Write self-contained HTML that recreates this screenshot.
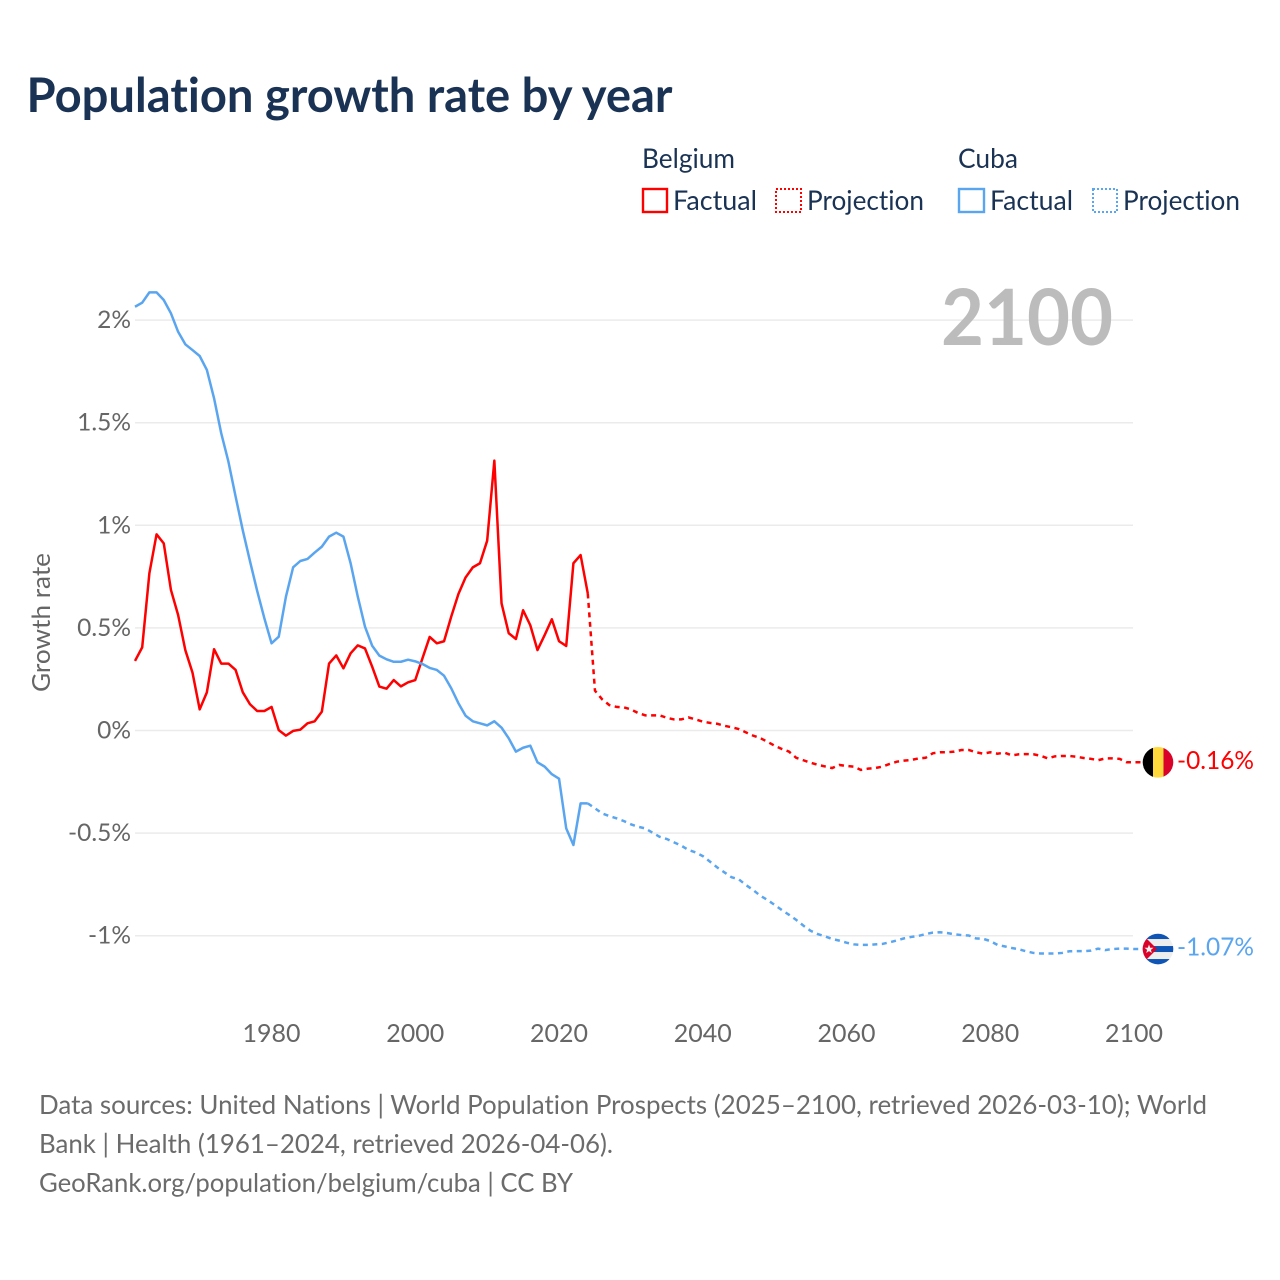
<!DOCTYPE html>
<html lang="en">
<head>
<meta charset="utf-8">
<title>Population growth rate by year</title>
<style>
html,body{margin:0;padding:0;background:#fff;}
svg{display:block;}
text{font-family:"Lato","Carlito","Liberation Sans",sans-serif;font-variant-ligatures:none;}
</style>
</head>
<body>
<svg id="chart" xmlns="http://www.w3.org/2000/svg" width="1280" height="1280" viewBox="0 0 1280 1280">
  <defs>
    <clipPath id="flag-clip"><circle cx="0" cy="0" r="15.3"/></clipPath>
  </defs>
  <rect width="1280" height="1280" fill="#fff"/>
  <text x="26.5" y="112" font-size="48" font-weight="700" fill="#1a3354" textLength="646" lengthAdjust="spacingAndGlyphs">Population growth rate by year</text>

  <g font-size="27" fill="#1a3354">
    <text x="642" y="168" textLength="93" lengthAdjust="spacingAndGlyphs">Belgium</text>
    <text x="958" y="168" textLength="60" lengthAdjust="spacingAndGlyphs">Cuba</text>
    <rect x="643" y="189" width="24" height="23" fill="none" stroke="#ff0000" stroke-width="2.4"/>
    <text x="673" y="210" textLength="84" lengthAdjust="spacingAndGlyphs">Factual</text>
    <rect x="776" y="189" width="25" height="23" fill="none" stroke="#ff0000" stroke-width="2" stroke-dasharray="2 2"/>
    <text x="807" y="210" textLength="117" lengthAdjust="spacingAndGlyphs">Projection</text>
    <rect x="959" y="189" width="25" height="23" fill="none" stroke="#5aa5ef" stroke-width="2.4"/>
    <text x="990" y="210" textLength="83" lengthAdjust="spacingAndGlyphs">Factual</text>
    <rect x="1093" y="189" width="24" height="23" fill="none" stroke="#5aa5ef" stroke-width="2" stroke-dasharray="2 2"/>
    <text x="1123" y="210" textLength="117" lengthAdjust="spacingAndGlyphs">Projection</text>
  </g>

  <g id="grid"></g>
  <g id="yticks"></g>
  <g id="xticks"></g>

  <text x="941" y="345" font-size="78" font-weight="700" fill="#bcbcbc" textLength="172" lengthAdjust="spacingAndGlyphs">2100</text>
  <text transform="translate(50,622.5) rotate(-90)" text-anchor="middle" font-size="25" fill="#666" textLength="139" lengthAdjust="spacingAndGlyphs">Growth rate</text>

  <g id="series"></g>

  <g id="flag-belgium">
    <g clip-path="url(#flag-clip)">
      <rect x="-16" y="-16" width="11" height="32" fill="#000"/>
      <rect x="-5" y="-16" width="10.5" height="32" fill="#ffd83d"/>
      <rect x="5.5" y="-16" width="11" height="32" fill="#da0229"/>
    </g>
  </g>
  <g id="flag-cuba">
    <g clip-path="url(#flag-clip)">
      <rect x="-16" y="-16" width="32" height="32" fill="#eeeeee"/>
      <rect x="-16" y="-16" width="32" height="6" fill="#0f55b5"/>
      <rect x="-16" y="-3" width="32" height="6" fill="#0f55b5"/>
      <rect x="-16" y="10" width="32" height="6" fill="#0f55b5"/>
      <polygon points="-16,-15 -1,0 -16,15" fill="#da0229"/>
      <polygon points="-9,-4.5 -7.8,-1.3 -4.5,-1.3 -7.1,0.8 -6.2,4 -9,2.1 -11.8,4 -10.9,0.8 -13.5,-1.3 -10.2,-1.3" fill="#f2f2f2"/>
    </g>
  </g>
  <g id="endlabels"></g>

  <g font-size="26" fill="#6b6b6b">
    <text x="39" y="1114" textLength="1168" lengthAdjust="spacingAndGlyphs">Data sources: United Nations | World Population Prospects (2025–2100, retrieved 2026-03-10); World</text>
    <text x="39" y="1153" textLength="574" lengthAdjust="spacingAndGlyphs">Bank | Health (1961–2024, retrieved 2026-04-06).</text>
    <text x="39" y="1192" textLength="534" lengthAdjust="spacingAndGlyphs">GeoRank.org/population/belgium/cuba | CC BY</text>
  </g>
</svg>
<script>
const xTickYears = [1980, 2000, 2020, 2040, 2060, 2080, 2100];
const xTickLabels = ["1980", "2000", "2020", "2040", "2060", "2080", "2100"];
const yTickValues = [2, 1.5, 1, 0.5, 0, -0.5, -1];
const yTickLabels = ["2%", "1.5%", "1%", "0.5%", "0%", "-0.5%", "-1%"];
const factualStartYear = 1961;
const projectionStartYear = 2024;
const belgiumFactual = [0.339,0.405,0.766,0.956,0.912,0.685,0.563,0.392,0.282,0.103,0.186,0.396,0.326,0.326,0.295,0.186,0.128,0.095,0.095,0.115,0.002,-0.025,-0.002,0.004,0.035,0.045,0.092,0.326,0.366,0.303,0.376,0.415,0.4,0.311,0.214,0.204,0.246,0.215,0.235,0.246,0.352,0.456,0.425,0.435,0.555,0.665,0.746,0.795,0.815,0.925,1.315,0.62,0.474,0.446,0.586,0.513,0.392,0.465,0.542,0.435,0.412,0.815,0.855,0.668];
const belgiumProjection = [0.668,0.194,0.152,0.124,0.115,0.113,0.103,0.085,0.074,0.074,0.074,0.062,0.054,0.054,0.064,0.054,0.043,0.037,0.033,0.023,0.016,0.007,-0.009,-0.025,-0.037,-0.055,-0.074,-0.09,-0.103,-0.133,-0.145,-0.157,-0.167,-0.175,-0.183,-0.168,-0.173,-0.176,-0.192,-0.186,-0.183,-0.176,-0.163,-0.152,-0.147,-0.144,-0.136,-0.133,-0.111,-0.106,-0.106,-0.103,-0.095,-0.095,-0.106,-0.113,-0.106,-0.113,-0.108,-0.121,-0.116,-0.115,-0.116,-0.123,-0.136,-0.126,-0.124,-0.124,-0.128,-0.134,-0.138,-0.145,-0.136,-0.136,-0.138,-0.155,-0.155];
const cubaFactual = [2.065,2.085,2.135,2.135,2.098,2.033,1.943,1.882,1.854,1.825,1.757,1.619,1.448,1.31,1.14,0.975,0.825,0.68,0.547,0.425,0.457,0.652,0.795,0.826,0.836,0.867,0.896,0.945,0.964,0.945,0.815,0.652,0.506,0.413,0.365,0.347,0.335,0.335,0.345,0.337,0.324,0.305,0.295,0.267,0.206,0.133,0.072,0.045,0.035,0.025,0.045,0.014,-0.038,-0.103,-0.084,-0.074,-0.155,-0.176,-0.213,-0.235,-0.477,-0.558,-0.355,-0.355];
const cubaProjection = [-0.355,-0.379,-0.404,-0.417,-0.428,-0.441,-0.457,-0.469,-0.477,-0.498,-0.518,-0.529,-0.545,-0.561,-0.582,-0.594,-0.612,-0.639,-0.667,-0.691,-0.715,-0.725,-0.753,-0.777,-0.805,-0.826,-0.85,-0.875,-0.898,-0.923,-0.951,-0.976,-0.992,-1.003,-1.016,-1.024,-1.034,-1.042,-1.045,-1.045,-1.042,-1.04,-1.032,-1.023,-1.013,-1.006,-1.001,-0.992,-0.985,-0.983,-0.987,-0.993,-0.997,-0.999,-1.013,-1.015,-1.026,-1.045,-1.052,-1.06,-1.066,-1.076,-1.084,-1.087,-1.087,-1.087,-1.084,-1.076,-1.075,-1.075,-1.073,-1.063,-1.07,-1.065,-1.063,-1.063,-1.065];
const endLabelBelgium = "-0.16%";
const endLabelCuba = "-1.07%";

const NS = "http://www.w3.org/2000/svg";
const xScale = function (year) { return 135 + (year - 1961) * (1134 - 135) / 139; };
const yScale = function (value) { return 730.5 - value * 205.2; };
const RED = "#ff0000";
const BLUE = "#5aa5ef";

function svgEl(tag, parentId) {
  const el = document.createElementNS(NS, tag);
  document.getElementById(parentId).appendChild(el);
  return el;
}
function linePath(values, startYear, tail) {
  const pts = values.map(function (v, i) {
    return xScale(startYear + i).toFixed(2) + "," + yScale(v).toFixed(2);
  });
  if (tail) {
    pts.push((xScale(startYear + values.length - 1) + 8).toFixed(2) + "," + yScale(values[values.length - 1]).toFixed(2));
  }
  return "M" + pts.join("L");
}

yTickValues.forEach(function (v, i) {
  const line = svgEl("line", "grid");
  
  
  line.setAttribute("x1", xScale(1961));
  line.setAttribute("x2", 1133);
  line.setAttribute("y1", yScale(v));
  line.setAttribute("y2", yScale(v));
  line.setAttribute("stroke", "#ebebeb");
  line.setAttribute("stroke-width", "1.5");
  const label = svgEl("text", "yticks");
  
  
  label.setAttribute("x", 131);
  label.setAttribute("y", yScale(v) + 8);
  label.setAttribute("text-anchor", "end");
  label.setAttribute("font-size", "24.5");
  label.setAttribute("fill", "#666");
  label.textContent = yTickLabels[i];
});

xTickYears.forEach(function (yr, i) {
  const label = svgEl("text", "xticks");
  
  
  label.setAttribute("x", xScale(yr));
  label.setAttribute("y", 1042);
  label.setAttribute("text-anchor", "middle");
  label.setAttribute("font-size", "25");
  label.setAttribute("fill", "#666");
  label.textContent = xTickLabels[i];
});

const belgiumFactualLine = svgEl("path", "series");


belgiumFactualLine.setAttribute("d", linePath(belgiumFactual, factualStartYear, false));
belgiumFactualLine.setAttribute("fill", "none");
belgiumFactualLine.setAttribute("stroke", RED);
belgiumFactualLine.setAttribute("stroke-width", "2.5");
belgiumFactualLine.setAttribute("stroke-linejoin", "round");

const belgiumProjectionLine = svgEl("path", "series");


belgiumProjectionLine.setAttribute("d", linePath(belgiumProjection, projectionStartYear, true));
belgiumProjectionLine.setAttribute("fill", "none");
belgiumProjectionLine.setAttribute("stroke", RED);
belgiumProjectionLine.setAttribute("stroke-width", "2.5");
belgiumProjectionLine.setAttribute("stroke-dasharray", "5 4.5");

const cubaFactualLine = svgEl("path", "series");


cubaFactualLine.setAttribute("d", linePath(cubaFactual, factualStartYear, false));
cubaFactualLine.setAttribute("fill", "none");
cubaFactualLine.setAttribute("stroke", BLUE);
cubaFactualLine.setAttribute("stroke-width", "2.5");
cubaFactualLine.setAttribute("stroke-linejoin", "round");

const cubaProjectionLine = svgEl("path", "series");


cubaProjectionLine.setAttribute("d", linePath(cubaProjection, projectionStartYear, true));
cubaProjectionLine.setAttribute("fill", "none");
cubaProjectionLine.setAttribute("stroke", BLUE);
cubaProjectionLine.setAttribute("stroke-width", "2.5");
cubaProjectionLine.setAttribute("stroke-dasharray", "5 4.5");

const belgiumEndY = yScale(belgiumProjection[belgiumProjection.length - 1]);
const cubaEndY = yScale(cubaProjection[cubaProjection.length - 1]);
document.getElementById("flag-belgium").setAttribute("transform", "translate(1158," + belgiumEndY + ")");
document.getElementById("flag-cuba").setAttribute("transform", "translate(1158," + cubaEndY + ")");

const belgiumEndLabel = svgEl("text", "endlabels");


belgiumEndLabel.setAttribute("x", 1177);
belgiumEndLabel.setAttribute("y", belgiumEndY + 6.5);
belgiumEndLabel.setAttribute("font-size", "25");
belgiumEndLabel.setAttribute("fill", RED);
belgiumEndLabel.setAttribute("textLength", "77");
belgiumEndLabel.setAttribute("lengthAdjust", "spacingAndGlyphs");
belgiumEndLabel.textContent = endLabelBelgium;

const cubaEndLabel = svgEl("text", "endlabels");


cubaEndLabel.setAttribute("x", 1177);
cubaEndLabel.setAttribute("y", cubaEndY + 6.5);
cubaEndLabel.setAttribute("font-size", "25");
cubaEndLabel.setAttribute("fill", BLUE);
cubaEndLabel.setAttribute("textLength", "77");
cubaEndLabel.setAttribute("lengthAdjust", "spacingAndGlyphs");
cubaEndLabel.textContent = endLabelCuba;
</script>
</body>
</html>
